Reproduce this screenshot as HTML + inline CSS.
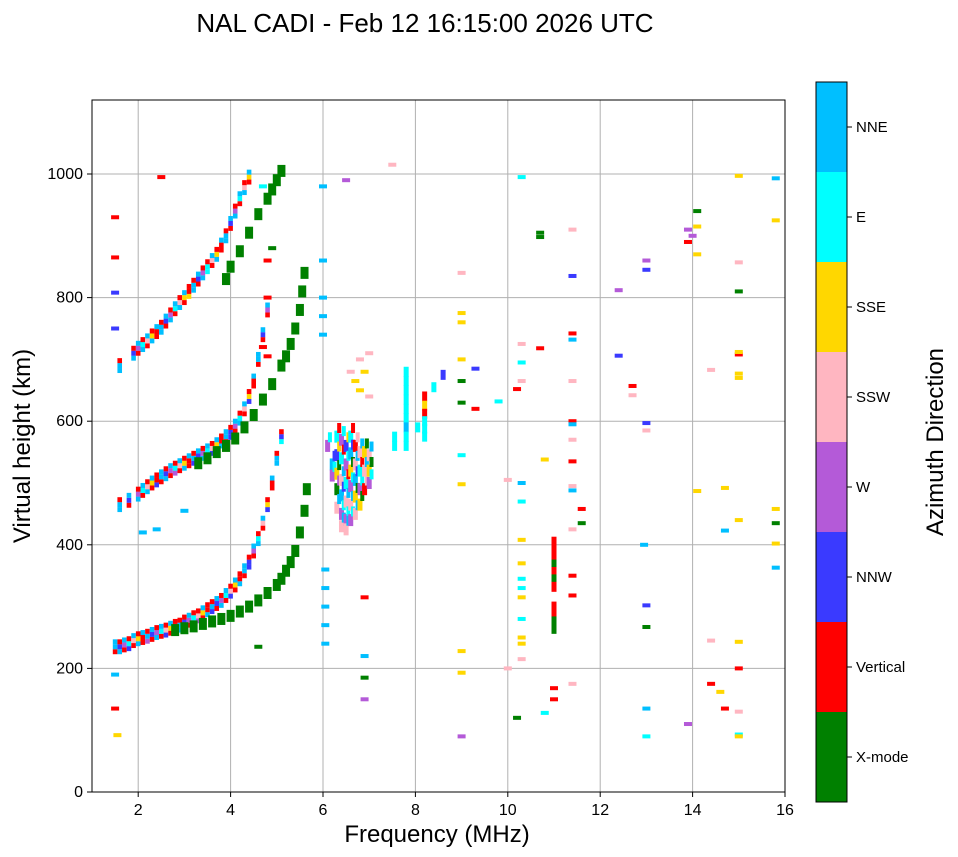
<!DOCTYPE html>
<html><head><meta charset="utf-8"><style>
body{margin:0;background:#fff;}
svg{display:block;font-family:"Liberation Sans",sans-serif;}
</style></head><body>
<svg id="chart" width="958" height="857">
<text x="425" y="32" text-anchor="middle" font-size="26">NAL CADI - Feb 12 16:15:00 2026 UTC</text>
<g id="grid"></g>
<g id="marks"></g>
<rect x="92" y="100" width="693" height="692" fill="none" stroke="#000" stroke-width="1"/>
<g id="axes"></g>
<text x="437" y="842" text-anchor="middle" font-size="24">Frequency (MHz)</text>
<text transform="translate(30,446) rotate(-90)" text-anchor="middle" font-size="24">Virtual height (km)</text>
<g id="cbar"></g>
<text transform="translate(943,442) rotate(-90)" text-anchor="middle" font-size="24">Azimuth Direction</text>
</svg>
<script>
const xTicks=[0,2,4,6,8,10,12,14,16];
const yTicks=[0,200,400,600,800,1000];
const dirLabels=["X-mode","Vertical","NNW","W","SSW","SSE","E","NNE"];
const dirColors=["#008000","#ff0000","#3a3aff","#b45ad8","#ffb6c1","#ffd700","#00ffff","#00bfff"];
const hop1=[[1.5,235,1],[1.6,235,7],[1.7,238,1],[1.8,240,2],[1.9,245,1],[2.0,248,7],[2.1,250,1],[2.2,252,3],[2.3,255,1],[2.4,258,7],[2.5,260,1],[2.6,262,2],[2.7,265,1],[2.8,268,3],[2.9,270,7],[3.0,275,2],[3.1,278,1],[3.2,282,7],[3.3,285,3],[3.4,290,1],[3.5,295,7],[3.6,300,2],[3.7,305,1],[3.8,310,7],[3.9,318,1],[4.0,325,2],[4.1,335,1],[4.2,345,7],[4.3,358,1],[4.4,372,2],[4.5,390,1],[4.6,410,7],[4.7,435,1],[4.8,465,2],[4.9,500,1],[5.0,540,7],[5.1,575,6]];
const hop2=[[1.6,465,7],[1.8,472,1],[2.0,482,7],[2.1,488,1],[2.2,494,7],[2.3,500,1],[2.4,505,2],[2.5,510,1],[2.6,515,7],[2.7,520,1],[2.8,524,3],[2.9,528,1],[3.0,532,7],[3.1,536,1],[3.2,540,2],[3.3,544,1],[3.4,548,7],[3.5,552,1],[3.6,556,2],[3.7,562,1],[3.8,568,7],[3.9,575,1],[4.0,582,2],[4.1,592,1],[4.2,605,7],[4.3,620,1],[4.4,640,2],[4.5,665,1],[4.6,700,1],[4.7,740,1],[4.8,780,1]];
const hop3=[[1.6,690,7],[1.9,710,7],[2.0,718,1],[2.1,724,7],[2.2,730,1],[2.3,738,7],[2.4,745,1],[2.5,752,7],[2.6,762,1],[2.7,772,7],[2.8,782,1],[2.9,792,7],[3.0,800,1],[3.1,810,5],[3.2,820,7],[3.3,830,1],[3.4,840,7],[3.5,850,6],[3.6,860,1],[3.7,870,7],[3.8,885,1],[3.9,900,7],[4.0,920,1],[4.1,940,7],[4.2,960,1],[4.3,978,7],[4.4,995,1]];
const xmode=[[2.8,262],[3.0,265],[3.2,268],[3.4,272],[3.6,276],[3.8,280],[4.0,285],[4.2,292],[4.4,300],[4.6,310],[4.8,322],[5.0,335],[5.1,345],[5.2,358],[5.3,372],[5.4,390],[5.5,420],[5.6,455],[5.65,490],
[3.3,532],[3.5,540],[3.7,550],[3.9,560],[4.1,572],[4.3,590],[4.5,610],[4.7,635],[4.9,660],[5.1,690],[5.2,705],[5.3,725],[5.4,750],[5.5,780],[5.55,810],[5.6,840],
[3.9,830],[4.0,850],[4.2,875],[4.4,905],[4.6,935],[4.8,960],[4.9,975],[5.0,990],[5.1,1005]];
const scatter=[[1.5,930,1],[1.5,865,1],[1.5,808,2],[1.5,750,2],[1.5,135,1],[1.5,190,7],[1.55,92,5],[2.1,420,7],[2.4,425,7],[2.5,995,1],[3.0,455,7],[4.6,235,0],[4.7,980,6],[4.9,880,0],[4.8,860,1],[4.8,800,1],[4.7,720,1],[4.8,705,1],[6.0,980,7],[6.0,860,7],[6.0,800,7],[6.0,770,7],[6.0,740,7],[6.05,360,7],[6.05,330,7],[6.05,300,7],[6.05,270,7],[6.05,240,7],[6.5,990,3],[6.9,220,7],[6.9,185,0],[6.9,150,3],[6.9,315,1],[7.5,1015,4],
[6.6,680,4],[6.7,665,5],[6.8,650,5],[6.9,680,5],[7.0,640,4],[6.8,700,4],[7.0,710,4],
[9.0,840,4],[9.0,775,5],[9.0,760,5],[9.0,700,5],[9.0,665,0],[9.0,630,0],[9.0,545,6],[9.0,498,5],[9.0,228,5],[9.0,193,5],[9.0,90,3],[9.3,685,2],[9.3,620,1],[9.8,632,6],[10.0,505,4],[10.0,200,4],[10.2,652,1],[10.2,120,0],[10.3,995,6],[10.3,725,4],[10.3,695,6],[10.3,665,4],[10.3,500,7],[10.3,470,6],[10.3,408,5],[10.3,370,5],[10.3,345,6],[10.3,330,6],[10.3,315,5],[10.3,280,6],[10.3,250,5],[10.3,240,5],[10.3,215,4],[10.7,905,0],[10.7,898,0],[10.7,718,1],[10.8,538,5],[10.8,128,6],[11.0,168,1],[11.0,150,1],
[11.4,910,4],[11.4,835,2],[11.4,742,1],[11.4,732,7],[11.4,665,4],[11.4,600,1],[11.4,595,7],[11.4,570,4],[11.4,535,1],[11.4,495,4],[11.4,488,7],[11.4,425,4],[11.4,350,1],[11.4,318,1],[11.4,175,4],[11.6,458,1],[11.6,435,0],[12.4,812,3],[12.4,706,2],[12.7,657,1],[12.7,642,4],[13.0,860,3],[13.0,845,2],[13.0,597,2],[13.0,585,4],[12.95,400,7],[13.0,302,2],[13.0,267,0],[13.0,135,7],[13.0,90,6],[13.9,910,3],[14.0,900,3],[13.9,890,1],[14.1,940,0],[14.1,915,5],[14.1,870,5],[14.1,487,5],[13.9,110,3],[14.4,683,4],[14.4,245,4],[14.4,175,1],[14.6,162,5],[14.7,135,1],[14.7,492,5],[14.7,423,7],[15.0,997,5],[15.0,857,4],[15.0,810,0],[15.0,708,1],[15.0,712,5],[15.0,677,5],[15.0,670,5],[15.0,440,5],[15.0,243,5],[15.0,200,1],[15.0,130,4],[15.0,93,6],[15.0,90,5],[15.8,993,7],[15.8,925,5],[15.8,458,5],[15.8,435,0],[15.8,402,5],[15.8,363,7]];
const cluster=[[6.1,560,3],[6.2,530,7],[6.2,512,3],[6.3,575,6],[6.3,545,2],[6.3,515,5],[6.3,490,0],[6.3,460,4],[6.4,570,3],[6.4,540,6],[6.4,505,4],[6.4,480,7],[6.4,450,3],[6.4,430,4],[6.5,560,2],[6.5,530,3],[6.5,500,6],[6.5,470,4],[6.5,440,3],[6.5,425,4],[6.6,575,6],[6.6,548,7],[6.6,520,5],[6.6,495,3],[6.6,465,4],[6.6,440,3],[6.7,560,1],[6.7,530,4],[6.7,505,7],[6.7,478,5],[6.7,450,4],[6.8,550,4],[6.8,520,6],[6.8,490,3],[6.8,465,5],[6.9,550,5],[6.9,520,4],[6.9,490,1],[7.0,545,4],[7.0,520,5],[7.0,500,3]];
const columns=[[7.8,680,6],[7.8,665,6],[7.8,650,6],[7.8,635,6],[7.8,620,6],[7.8,605,6],[7.8,590,7],[7.8,575,6],[7.8,560,6],[7.55,575,6],[7.55,560,6],[8.2,640,1],[8.2,625,5],[8.2,612,1],[8.2,600,6],[8.2,588,6],[8.2,575,6],[8.05,590,6],[8.4,655,6],[8.6,675,2],
[11.0,405,1],[11.0,392,1],[11.0,380,1],[11.0,368,0],[11.0,356,1],[11.0,344,0],[11.0,332,1],[11.0,300,1],[11.0,288,1],[11.0,276,0],[11.0,264,0]];
const svgNS="http://www.w3.org/2000/svg";
const X=f=>92+(f-1)*46.2, Y=h=>792-h*0.618;
function mk(tag,attrs,parent){const e=document.createElementNS(svgNS,tag);for(const k in attrs)e.setAttribute(k,attrs[k]);parent.appendChild(e);return e;}
const grid=document.getElementById('grid'),marks=document.getElementById('marks'),axes=document.getElementById('axes'),cbar=document.getElementById('cbar');
xTicks.forEach(v=>{if(v<1)return;const x=X(v);
 const l=mk('line',{x1:x,x2:x,y1:100,y2:792,stroke:'#b0b0b0','stroke-width':1},grid);
 
 
 mk('line',{x1:x,x2:x,y1:792,y2:797,stroke:'#000'},axes);
 const t=mk('text',{x:x,y:815,'text-anchor':'middle','font-size':16},axes);t.textContent=v;
 
 
});
yTicks.forEach(v=>{const y=Y(v);
 const l=mk('line',{x1:92,x2:785,y1:y,y2:y,stroke:'#b0b0b0','stroke-width':1},grid);
 
 
 mk('line',{x1:87,x2:92,y1:y,y2:y,stroke:'#000'},axes);
 const t=mk('text',{x:83,y:y+5,'text-anchor':'end','font-size':16},axes);t.textContent=v;
 
 
});
function cell(f,h,c,w,hh,name){const r=mk('rect',{x:X(f)-w/2,y:Y(h)-hh/2,width:w,height:hh,fill:dirColors[c]},marks);
 
 }
const mix=[1,7,2,3,6,4,5];
[hop1,hop2,hop3].forEach(tr=>tr.forEach((p,i)=>{
 cell(p[0],p[1]-8,p[2],4.6,5,'o-mode-echo');
 cell(p[0],p[1],mix[(i+1)%mix.length],4.6,5,'o-mode-echo');
 cell(p[0],p[1]+8,p[2]==1?7:1,4.6,5,'o-mode-echo');
}));
xmode.forEach(p=>{cell(p[0],p[1],0,8,12,'x-mode-echo');});
scatter.forEach(p=>cell(p[0],p[1],p[2],8,4,'scatter-echo'));
cluster.forEach(p=>{cell(p[0],p[1],p[2],5,12,'cluster-echo');cell(p[0]+0.05,p[1]+14,(p[2]+3)%8,4,10,'cluster-echo');});
columns.forEach(p=>cell(p[0],p[1],p[2],5,10,'column-echo'));
dirLabels.forEach((lab,i)=>{const y=802-(i+1)*90;
 const r=mk('rect',{x:816,y:y,width:31,height:90,fill:dirColors[i]},cbar);
 
 
 mk('line',{x1:847,x2:852,y1:y+45,y2:y+45,stroke:'#000'},cbar);
 const t=mk('text',{x:856,y:y+50,'font-size':15},cbar);t.textContent=lab;
 
 
});
mk('rect',{x:816,y:82,width:31,height:720,fill:'none',stroke:'#000'},cbar);
</script>
</body></html>
